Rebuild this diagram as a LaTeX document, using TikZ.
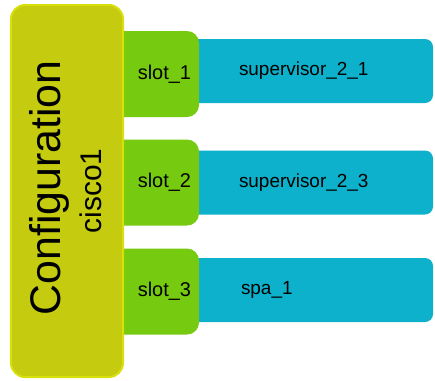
\documentclass[tikz,border=0pt]{standalone}
\usepackage{fontspec}
\setmainfont{Liberation Sans}
\definecolor{cfgfill}{RGB}{197,203,14}
\definecolor{cfgline}{RGB}{216,224,12}
\definecolor{slotgreen}{RGB}{118,202,16}
\definecolor{modblue}{RGB}{14,177,203}
\tikzset{
  modbox/.style={fill=modblue,rounded corners=8bp,minimum height=64bp,
    text width=140bp,inner xsep=54bp,align=left,
    font=\fontsize{19}{22}\selectfont},
  slotbox/.style={fill=slotgreen,rounded corners=12bp,minimum height=86bp,
    text width=73bp,inner xsep=8bp,align=right,
    font=\fontsize{20}{23}\selectfont},
  cfgbox/.style={fill=cfgfill,draw=cfgline,line width=2bp,rounded corners=14bp,
    minimum width=112bp,minimum height=372bp}
}
\begin{document}
\begin{tikzpicture}[x=1bp,y=-1bp]
 \useasboundingbox (0,0) rectangle (435,380);
 \node [modbox] (mod1) at (309,71) {supervisor\_2\_1};
 \node [modbox] (mod2) at (309,182.5) {supervisor\_2\_3};
 \node [modbox] (mod3) at (309,290) {\hspace{2bp}spa\_1};
 \node [slotbox] (slot1) at (154.5,74) {slot\_1};
 \node [slotbox] (slot2) at (154.5,182.5) {slot\_2};
 \node [slotbox] (slot3) at (154.5,291.5) {slot\_3};
 \node [cfgbox] (cfg) at (67,191) {};
 \node [rotate=90,font=\fontsize{43}{48}\selectfont] (cfgname) at (49,188) {Configuration};
 \node [rotate=90,font=\fontsize{30}{34}\selectfont] (cfghost) at (91,191) {cisco1};
\end{tikzpicture}
\end{document}
